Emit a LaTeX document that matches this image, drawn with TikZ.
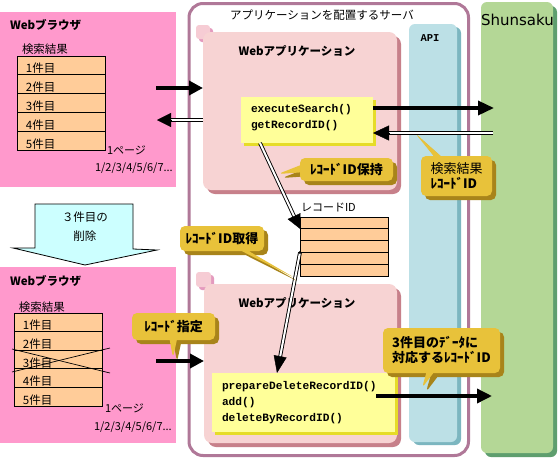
\documentclass[tikz,border=0pt]{standalone}
\usepackage{fontspec}
\newfontfamily\jp{Noto Sans CJK JP}
\newfontfamily\codefont{Liberation Mono}
\newfontfamily\dvs{DejaVu Sans}
\usetikzlibrary{shapes.callouts,shadows,arrows.meta,calc}
\pgfdeclarelayer{bg}
\pgfdeclarelayer{mid}
\pgfsetlayers{bg,mid,main}
\newcommand\JPreg{\jp\fontsize{11.5}{13}\selectfont}
\newcommand\JPsmall{\jp\fontsize{11}{13}\selectfont}
\newcommand\JPtitle{\jp\bfseries\fontsize{11.5}{13}\selectfont}
\newcommand\JPbold{\jp\bfseries\fontsize{13}{15}\selectfont}
\newcommand\JPmed{\jp\mdseries\fontsize{13}{15}\selectfont}
\definecolor{brpink}{HTML}{FF99CC}
\definecolor{peach}{HTML}{FFCC99}
\definecolor{svborder}{HTML}{B07898}
\definecolor{webpink}{HTML}{F7D3D3}
\definecolor{webshadow}{HTML}{C7808A}
\definecolor{ylw}{HTML}{FFFF99}
\definecolor{ylwshadow}{HTML}{E6DC28}
\definecolor{apiblue}{HTML}{BCE0E6}
\definecolor{apishadow}{HTML}{7CB6C0}
\definecolor{shgreen}{HTML}{B4D796}
\definecolor{shshadow}{HTML}{5E9E6E}
\definecolor{gold}{HTML}{E8C23A}
\definecolor{goldshadow}{HTML}{A8841A}
\definecolor{cyanbox}{HTML}{CCFFFF}
\definecolor{notchpink}{HTML}{F6CCD4}
\definecolor{notchdark}{HTML}{E49ABE}
\tikzset{
  box/.style={inner sep=0pt, outer sep=0pt, anchor=north west},
  wbox/.style={box, fill=webpink, rounded corners=8pt,
    drop shadow={shadow xshift=4pt, shadow yshift=-4pt, fill=webshadow, opacity=1}},
  ybox/.style={box, fill=ylw,
    drop shadow={shadow xshift=3pt, shadow yshift=-3pt, fill=ylwshadow, opacity=1}},
  row/.style={box, draw=black, line width=0.9pt, fill=peach, font=\JPreg,
    inner xsep=9pt, inner ysep=0pt, text width=70pt, align=left,
    text height=15pt, text depth=0pt},
  ridrow/.style={box, draw=black, line width=0.9pt, fill=peach,
    minimum width=88pt, minimum height=11.8pt},
  txt/.style={inner sep=0pt, outer sep=0pt},
  code/.style={txt, anchor=west, align=left, font=\codefont\bfseries\fontsize{11.2}{16}\selectfont},
  callout/.style={rectangle callout, fill=gold, rounded corners=5pt, inner sep=0pt,
    font=\JPbold, align=left,
    drop shadow={shadow xshift=4pt, shadow yshift=-4pt, fill=goldshadow, opacity=1}},
  bigarrow/.style={line width=3.5pt, -{Triangle[length=14pt,width=14pt]}},
  dbl/.style={double=white, double distance=2pt, line width=0.9pt},
  tiponly/.style={line width=0.4pt, -{Triangle[length=14pt,width=14pt]}},
}
\begin{document}
\begin{tikzpicture}[x=1pt,y=-1pt]
\useasboundingbox (0,0) rectangle (558,461);
\begin{pgfonlayer}{bg}
\fill[white] (0,0) rectangle (558,461);
% browsers
\node[box, fill=brpink, minimum width=176pt, minimum height=175pt] (br1) at (0,12) {};
\node[box, fill=brpink, minimum width=176pt, minimum height=176pt] (br2) at (0,267) {};
% server
\node[box, draw=svborder, line width=3pt, rounded corners=14pt,
      minimum width=279.5pt, minimum height=452pt] (sv) at (189,3.5) {};
% API column
\node[box, fill=apiblue, rounded corners=6pt, minimum width=48pt, minimum height=418pt,
      drop shadow={shadow xshift=4pt, shadow yshift=-3pt, fill=apishadow, opacity=1}] (api) at (409,24) {};
% Shunsaku column
\node[box, fill=shgreen, rounded corners=6pt, minimum width=72pt, minimum height=451pt,
      drop shadow={shadow xshift=4pt, shadow yshift=-4pt, fill=shshadow, opacity=1}] (sh) at (481,2) {};
% notches
\fill[notchdark, rounded corners=3pt] (199,28) rectangle (213,42);
\fill[notchpink, rounded corners=3pt] (196,25) rectangle (210,39);
\fill[notchdark, rounded corners=3pt] (199,275) rectangle (214,290);
\fill[notchpink, rounded corners=3pt] (196,272) rectangle (211,287);
% web applications
\node[wbox, minimum width=194pt, minimum height=158pt] (wa1) at (203,32) {};
\node[wbox, minimum width=193pt, minimum height=159pt] (wa2) at (204,284) {};
% yellow boxes
\node[ybox, minimum width=132pt, minimum height=46pt] (ys1) at (241,97) {};
\node[ybox, minimum width=183pt, minimum height=59pt] (ys2) at (212,373) {};
\end{pgfonlayer}

% titles and texts
\node[txt, anchor=west, font=\JPtitle] (br1t) at (10,25) {Webブラウザ};
\node[txt, anchor=west, font=\JPreg] (br1s) at (22,49) {検索結果};
\node[txt, anchor=west, font=\JPtitle] (br2t) at (10,281) {Webブラウザ};
\node[txt, anchor=west, font=\JPreg] (br2s) at (19,307) {検索結果};
\node[txt, font=\JPreg] (svt) at (322,15) {アプリケーションを配置するサーバ};
\node[txt, font=\JPtitle] (wa1t) at (297,51) {Webアプリケーション};
\node[txt, font=\JPtitle] (wa2t) at (297,303) {Webアプリケーション};
\node[txt, font=\codefont\bfseries\fontsize{10.5}{12}\selectfont] (apit) at (430,38) {API};
\node[txt, anchor=west, font=\dvs\fontsize{15}{17}\selectfont] (sht) at (481,20) {Shunsaku};
\node[code] (c1code) at (251,118) {executeSearch()\\getRecordID()};
\node[code] (c2code) at (222,403) {prepareDeleteRecordID()\\add()\\deleteByRecordID()};

% result tables
\foreach \i/\t in {1/1件目,2/2件目,3/3件目,4/4件目,5/5件目}{
  \node[row, minimum height=18.8pt] (t1r\i) at (17,{56+(\i-1)*18.8}) {\t};
  \node[row, minimum height=18.6pt] (t2r\i) at (14,{313+(\i-1)*18.6}) {\t};
}
\draw[line width=0.7pt] (12,349) -- (110,373);
\draw[line width=0.7pt] (12,372) -- (110,348);
\node[txt, anchor=west, font=\JPsmall] (p1) at (107,150) {1ページ};
\node[txt, anchor=west, font=\JPsmall] (n1) at (95,168) {1/2/3/4/5/6/7...};
\node[txt, anchor=west, font=\JPsmall] (p2) at (105,408) {1ページ};
\node[txt, anchor=west, font=\JPsmall] (n2) at (94,427) {1/2/3/4/5/6/7...};

% record id table
\node[txt, anchor=west, font=\JPsmall] (ridt) at (301,207) {レコードID};
\foreach \i in {1,...,5}{
  \node[ridrow] (rid\i) at (300,{217+(\i-1)*11.8}) {};
}

% block arrow
\draw[fill=cyanbox, line width=0.8pt] (35,204) -- (133,204) -- (133,249) -- (157,250)
  -- (85,265) -- (13,248) -- (35,248) -- cycle;
\node[txt, align=center, font=\jp\fontsize{11.5}{19}\selectfont] (del) at (85,227) {３件目の\\削除};

% connectors
\coordinate (a1s) at (156,88);
\draw[bigarrow] (a1s) -- (a1s -| wa1.west);
\coordinate (a2e) at (157,120);
\draw[dbl, shorten >=12pt] (a2e -| wa1.west) -- (a2e);
\draw[tiponly] ($(a2e)+(14,0)$) -- (a2e);
\coordinate (a3e) at (494,108);
\draw[bigarrow, -{Triangle[length=16pt,width=14pt]}] (a3e -| ys1.east) -- (a3e);
\coordinate (a4s) at (493,133);
\draw[dbl, shorten >=12pt] (a4s) -- (a4s -| ys1.east);
\draw[tiponly, -{Triangle[length=16pt,width=15pt]}] ($(a4s -| ys1.east)+(16,0)$) -- (a4s -| ys1.east);
\coordinate (a5s) at (376,396);
\coordinate (a5e) at (492,396);
\draw[bigarrow, -{Triangle[length=15pt,width=14pt]}] (a5s) -- (a5e);
\coordinate (a6s) at (156,361);
\draw[bigarrow] (a6s) -- (a6s -| wa2.west);

\begin{pgfonlayer}{mid}
\coordinate (d1s) at ($(ys1.south west)+(19,0)$);
\draw[dbl, shorten >=12pt] (d1s) -- (rid1.south west);
\draw[tiponly] ($(rid1.south west)!14pt!(d1s)$) -- (rid1.south west);
\end{pgfonlayer}
\coordinate (d2e) at ($(ys2.north west)+(65,0)$);
\draw[dbl, shorten >=15pt] (rid3.south west) -- (d2e);
\draw[tiponly, -{Triangle[length=17pt,width=13pt]}] ($(d2e)!17pt!(rid3.south west)$) -- (d2e);
\fill (rid3.south west) circle (1.6pt);

% callouts
\node[callout, minimum width=93pt, minimum height=23pt,
      callout absolute pointer={(278,174)}] (k1) at (346.5,169.5) {ﾚｺｰﾄﾞID保持};
\node[callout, minimum width=71pt, minimum height=40pt,
      callout absolute pointer={(415,133)}] (k2) at (456.5,176) {{\JPmed 検索結果}\\ﾚｺｰﾄﾞID};
\node[callout, minimum width=84pt, minimum height=25pt,
      callout absolute pointer={(295,278)}] (k3) at (222,238.5) {ﾚｺｰﾄﾞID取得};
\node[callout, minimum width=83pt, minimum height=27pt,
      callout absolute pointer={(173,358)}] (k4) at (173.5,326.5) {ﾚｺｰﾄﾞ指定};
\node[callout, minimum width=117pt, minimum height=45pt,
      callout absolute pointer={(422,388)}] (k5) at (441.5,350.5) {3件目のﾃﾞｰﾀに\\対応するﾚｺｰﾄﾞID};
\end{tikzpicture}
\end{document}
